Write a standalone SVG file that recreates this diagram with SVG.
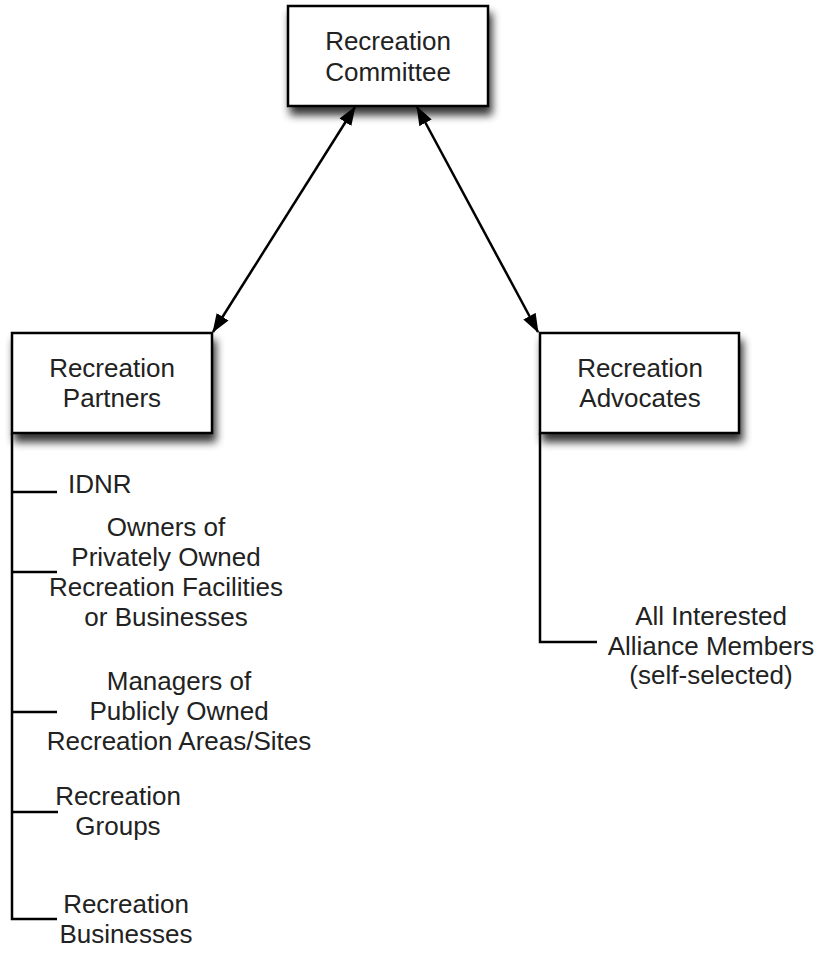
<svg xmlns="http://www.w3.org/2000/svg" width="822" height="953" viewBox="0 0 822 953">
<style>
  .box { fill: #ffffff; stroke: #000000; stroke-width: 2.5; }
  .t { font-family: "Liberation Sans", Arial, Helvetica, sans-serif; font-size: 26px; fill: #222222; text-anchor: middle; }
  .tl { text-anchor: start; }
  .conn { stroke: #000000; stroke-width: 2.5; fill: none; }
  .arrow { marker-start: url(#ah); marker-end: url(#ah); }
</style>
<defs>
  <filter id="sh" x="-20%" y="-20%" width="150%" height="160%">
    <feGaussianBlur in="SourceAlpha" stdDeviation="4.5"/>
    <feOffset dx="3" dy="8" result="b"/>
    <feComponentTransfer><feFuncA type="linear" slope="0.8"/></feComponentTransfer>
    <feMerge><feMergeNode/><feMergeNode in="SourceGraphic"/></feMerge>
  </filter>
  <marker id="ah" viewBox="0 0 19 14" markerUnits="userSpaceOnUse" markerWidth="19" markerHeight="14" refX="18" refY="7" orient="auto-start-reverse">
    <path d="M0,0 L19,7 L0,14 z" fill="#000000"/>
  </marker>
</defs>
<rect width="822" height="953" fill="#ffffff"/>

<g id="connectors">
  <line class="conn arrow" x1="355" y1="107" x2="213" y2="332"/>
  <line class="conn arrow" x1="417" y1="107" x2="538" y2="332"/>
  <polyline class="conn" points="12,433 12,919 57,919"/>
  <line class="conn" x1="12" y1="492" x2="57" y2="492"/>
  <line class="conn" x1="12" y1="572" x2="57" y2="572"/>
  <line class="conn" x1="12" y1="712" x2="57" y2="712"/>
  <line class="conn" x1="12" y1="812" x2="58" y2="812"/>
  <polyline class="conn" points="540,433 540,642 597,642"/>
</g>

<g id="committee">
  <rect class="box" x="288" y="6" width="200" height="100" filter="url(#sh)"/>
  <text class="t" x="388" y="50">Recreation</text>
  <text class="t" x="388" y="81">Committee</text>
</g>

<g id="partners">
  <rect class="box" x="12" y="333" width="200" height="100" filter="url(#sh)"/>
  <text class="t" x="112" y="377">Recreation</text>
  <text class="t" x="112" y="407">Partners</text>
</g>

<g id="advocates">
  <rect class="box" x="540" y="333" width="199" height="100" filter="url(#sh)"/>
  <text class="t" x="640" y="377">Recreation</text>
  <text class="t" x="640" y="407">Advocates</text>
</g>

<g id="idnr">
  <text class="t tl" x="68" y="493">IDNR</text>
</g>

<g id="owners">
  <text class="t" x="166" y="536">Owners of</text>
  <text class="t" x="166" y="566">Privately Owned</text>
  <text class="t" x="166" y="596">Recreation Facilities</text>
  <text class="t" x="166" y="626">or Businesses</text>
</g>

<g id="managers">
  <text class="t" x="179" y="690">Managers of</text>
  <text class="t" x="179" y="720">Publicly Owned</text>
  <text class="t" x="179" y="750">Recreation Areas/Sites</text>
</g>

<g id="groups">
  <text class="t" x="118" y="805">Recreation</text>
  <text class="t" x="118" y="835">Groups</text>
</g>

<g id="businesses">
  <text class="t" x="126" y="913">Recreation</text>
  <text class="t" x="126" y="943">Businesses</text>
</g>

<g id="members">
  <text class="t" x="711" y="625">All Interested</text>
  <text class="t" x="711" y="655">Alliance Members</text>
  <text class="t" x="711" y="684">(self-selected)</text>
</g>
</svg>
